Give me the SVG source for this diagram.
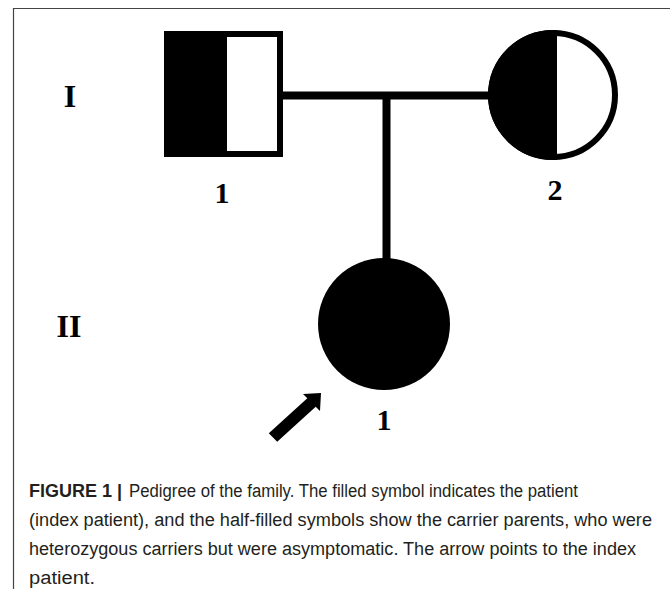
<svg xmlns="http://www.w3.org/2000/svg" width="670" height="589" viewBox="0 0 670 589">
  <style>
    .lbl { font-family: "Liberation Serif", "Times New Roman", serif; font-weight: bold; fill: #000; text-anchor: middle; }
    .cap { font-family: "Liberation Sans", Arial, sans-serif; font-size: 18px; fill: #231f20; }
    .line { stroke: #000; stroke-width: 8; fill: none; }
  </style>
  <defs>
    <clipPath id="leftHalf">
      <rect x="480" y="20" width="77" height="150"/>
    </clipPath>
  </defs>
  <rect x="0" y="0" width="670" height="589" fill="#fff"/>
  <!-- frame -->
  <path d="M13.5 589 V8.5 H670" fill="none" stroke="#444" stroke-width="1.2"/>

  <!-- generation labels -->
  <text class="lbl" x="70" y="107" font-size="32">I</text>
  <text class="lbl" x="69" y="337" font-size="32">II</text>

  <!-- connectors -->
  <g id="connectors">
    <line class="line" x1="280" y1="95.5" x2="490" y2="95.5"/>
    <line class="line" x1="386.5" y1="95.5" x2="386.5" y2="262"/>
  </g>

  <!-- I-1 father: half-filled square -->
  <g id="I-1">
    <rect x="167" y="34" width="113" height="120" fill="#fff" stroke="#000" stroke-width="6"/>
    <rect x="164" y="31" width="63" height="126" fill="#000"/>
    <text class="lbl" x="222" y="203" font-size="30">1</text>
  </g>

  <!-- I-2 mother: half-filled circle -->
  <g id="I-2">
    <circle cx="553" cy="95" r="62" fill="#fff" stroke="#000" stroke-width="6"/>
    <circle cx="553" cy="95" r="65" fill="#000" clip-path="url(#leftHalf)"/>
    <text class="lbl" x="555" y="200" font-size="30">2</text>
  </g>

  <!-- II-1 index patient -->
  <g id="II-1">
    <circle cx="384" cy="324" r="66" fill="#000"/>
    <text class="lbl" x="384" y="430" font-size="30">1</text>
  </g>

  <!-- proband arrow -->
  <g id="arrow">
    <polygon points="321,393 303,394 307.3,398.3 268.8,433.3 277.2,441.7 315.7,406.7 320,411" fill="#000"/>
  </g>

  <!-- caption -->
  <g id="caption">
    <text class="cap" x="29" y="497" font-weight="bold">FIGURE 1 |</text>
    <text class="cap" x="129" y="497" textLength="449" lengthAdjust="spacingAndGlyphs">Pedigree of the family. The filled symbol indicates the patient</text>
    <text class="cap" x="29" y="526" textLength="623" lengthAdjust="spacingAndGlyphs">(index patient), and the half-filled symbols show the carrier parents, who were</text>
    <text class="cap" x="29" y="555" textLength="607" lengthAdjust="spacingAndGlyphs">heterozygous carriers but were asymptomatic. The arrow points to the index</text>
    <text class="cap" x="29" y="584" textLength="66" lengthAdjust="spacingAndGlyphs">patient.</text>
  </g>
</svg>
